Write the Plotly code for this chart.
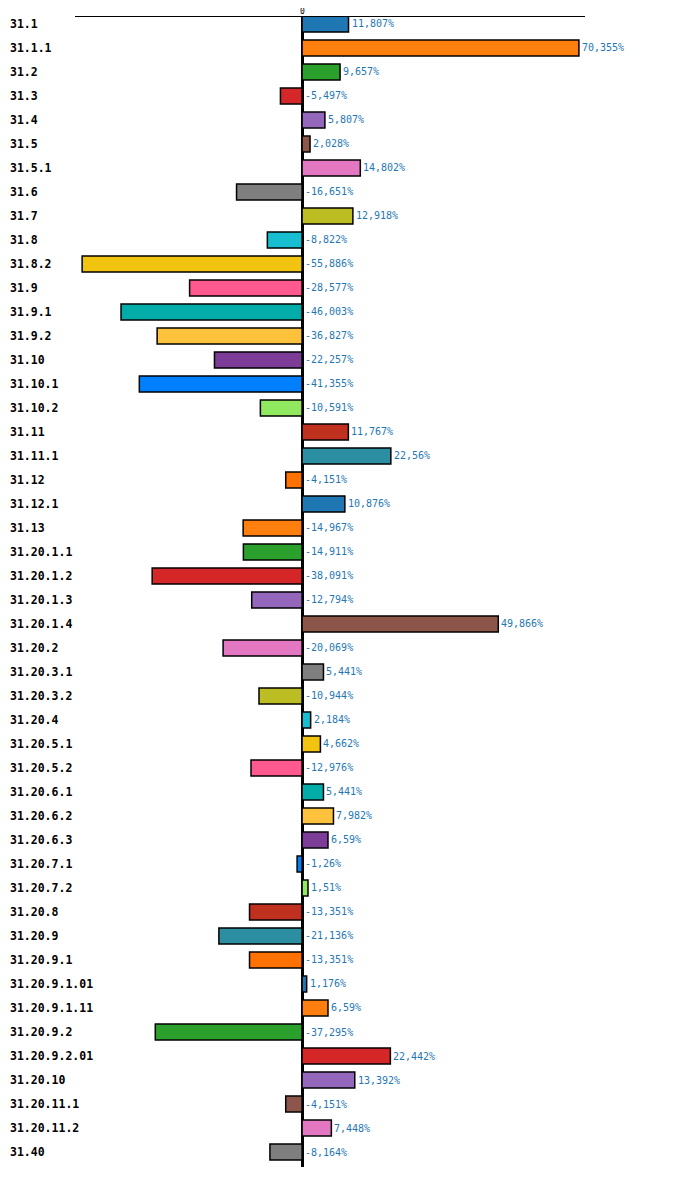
import plotly.graph_objects as go

categories = [
    "31.1", "31.1.1", "31.2", "31.3", "31.4", "31.5", "31.5.1", "31.6", "31.7",
    "31.8", "31.8.2", "31.9", "31.9.1", "31.9.2", "31.10", "31.10.1", "31.10.2",
    "31.11", "31.11.1", "31.12", "31.12.1", "31.13", "31.20.1.1", "31.20.1.2",
    "31.20.1.3", "31.20.1.4", "31.20.2", "31.20.3.1", "31.20.3.2", "31.20.4",
    "31.20.5.1", "31.20.5.2", "31.20.6.1", "31.20.6.2", "31.20.6.3", "31.20.7.1",
    "31.20.7.2", "31.20.8", "31.20.9", "31.20.9.1", "31.20.9.1.01",
    "31.20.9.1.11", "31.20.9.2", "31.20.9.2.01", "31.20.10", "31.20.11.1",
    "31.20.11.2", "31.40",
]
values = [
    11.807, 70.355, 9.657, -5.497, 5.807, 2.028, 14.802, -16.651, 12.918,
    -8.822, -55.886, -28.577, -46.003, -36.827, -22.257, -41.355, -10.591,
    11.767, 22.56, -4.151, 10.876, -14.967, -14.911, -38.091,
    -12.794, 49.866, -20.069, 5.441, -10.944, 2.184,
    4.662, -12.976, 5.441, 7.982, 6.59, -1.26,
    1.51, -13.351, -21.136, -13.351, 1.176,
    6.59, -37.295, 22.442, 13.392, -4.151,
    7.448, -8.164,
]
x_ticks = [0]

palette = [
    "#1f77b4", "#ff7f0e", "#2ca02c", "#d62728", "#9467bd",
    "#8c564b", "#e377c2", "#7f7f7f", "#bcbd22", "#17becf",
    "#f1c40f", "#ff598f", "#02aca8", "#ffc23d", "#7d3c98",
    "#007fff", "#91e95f", "#c0301e", "#2b8fa1", "#ff7100",
]
bar_colors = [palette[i % len(palette)] for i in range(len(categories))]
value_text = [("%g" % v).replace(".", ",") + "%" for v in values]

mono = "DejaVu Sans Mono"
n = len(categories)

fig = go.Figure()
fig.add_trace(go.Bar(
    x=values, y=categories, orientation="h", width=0.66,
    marker=dict(color=bar_colors, line=dict(color="black", width=1.5)),
    hoverinfo="skip", showlegend=False,
))

# annotations on a category axis take the category index as y
for i, (cat, v, txt) in enumerate(zip(categories, values, value_text)):
    fig.add_annotation(
        x=max(v, 0), y=i, text=txt, showarrow=False,
        xanchor="left", xshift=1,
        font=dict(family=mono, size=10, color="#1f77b4"),
    )
    fig.add_annotation(
        x=-67 / 510, xref="paper", y=i, yref="y",
        text="<b>%s</b>" % cat, showarrow=False, xanchor="left",
        font=dict(family=mono, size=11.5, color="black"),
    )

# the axis tick label on top, drawn tight to the line
for t in x_ticks:
    fig.add_annotation(
        x=t, y=1, yref="paper", text=str(t), showarrow=False,
        yanchor="bottom", borderpad=0,
        font=dict(family=mono, size=8, color="black"),
    )

fig.update_layout(
    width=700, height=1197,
    margin=dict(l=67, r=123, t=9, b=38),
    plot_bgcolor="white", paper_bgcolor="white",
    xaxis=dict(
        range=[-57.7, 71.9], side="top", showgrid=False, automargin=False,
        showline=True, linecolor="black", linewidth=1,
        showticklabels=False, ticks="",
        zeroline=True, zerolinecolor="black", zerolinewidth=3,
    ),
    yaxis=dict(
        type="category", range=[47.625, -0.29], automargin=False,
        showticklabels=False, showgrid=False, showline=False, ticks="",
    ),
)

fig.write_html("out.html")
